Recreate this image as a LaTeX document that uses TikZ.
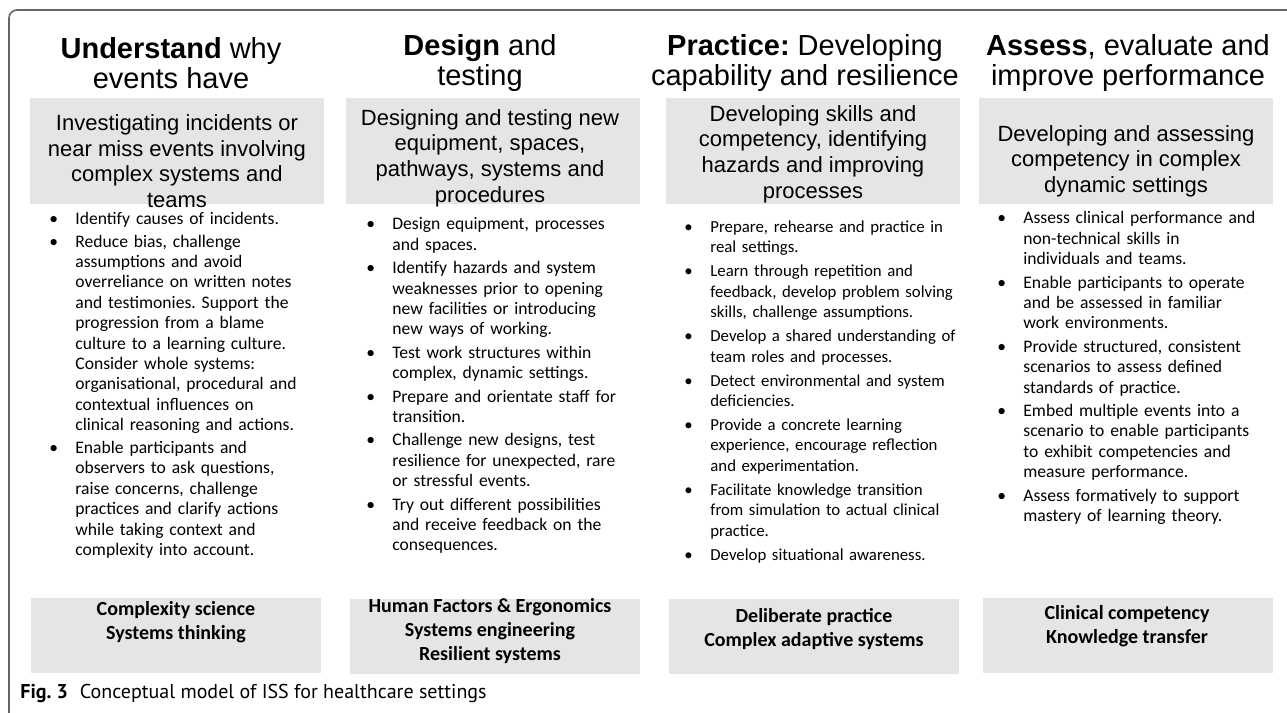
\documentclass[tikz,border=0pt]{standalone}
\usepackage{fontspec}
\setmainfont{Carlito}
\newfontfamily\arialfont{Liberation Sans}
\newfontfamily\capfont{PT Sans}
\frenchspacing
\newcommand\bul{\par\hangindent=13pt\hangafter=1\noindent\hbox to 13pt{\textbullet\hfil}}
\newcommand\listsetup[1][1.2pt]{\let\\\newline\setlength\parskip{#1}\frenchspacing}

\begin{document}
\begin{tikzpicture}[x=0.5pt,y=-0.5pt,
  title/.style={font=\arialfont\fontsize{14.5}{15}\selectfont, align=center, inner sep=0pt},
  greybox/.style={fill=black!10, minimum width=147pt, minimum height=53pt, inner sep=0pt},
  aim/.style={font=\arialfont\fontsize{11}{12.8}\selectfont, align=center, inner sep=0pt},
  bullets/.style={font=\fontsize{8.8}{10.2}\selectfont, text width=150pt, inner sep=0pt, anchor=north west},
  theorybox/.style={fill=black!10, minimum width=145pt, minimum height=37.5pt, inner sep=0pt},
  theory/.style={font=\bfseries\fontsize{10}{12}\selectfont, align=center, inner sep=0pt},
  frame/.style={draw=black!60, line width=0.8pt, rounded corners=4pt}]
\useasboundingbox (0,0) rectangle (1287,713);
\draw[frame] (1287,10) -- (9,10) -- (9,713);

% column titles
\node[title] (understand) at (171,63) {\textbf{Understand} why\\events have};
\node[title] (design) at (480,63) {\textbf{Design} and\\testing};
\node[title] (practice) at (805,63) {\textbf{Practice:} Developing\\capability and resilience};
\node[title] (assess) at (1128,63) {\textbf{Assess}, evaluate and\\improve performance};

% grey boxes with aims
\node[greybox] (aimbox1) at (177,151) {};
\node[greybox] (aimbox2) at (492.5,151) {};
\node[greybox] (aimbox3) at (813,151) {};
\node[greybox] (aimbox4) at (1126,151) {};
\node[aim] (aim1) at (177,161) {Investigating incidents or\\near miss events involving\\complex systems and\\teams};
\node[aim] (aim2) at (490,158) {Designing and testing new\\equipment, spaces,\\pathways, systems and\\procedures};
\node[aim] (aim3) at (813,154) {Developing skills and\\competency, identifying\\hazards and improving\\processes};
\node[aim] (aim4) at (1126,161) {Developing and assessing\\competency in complex\\dynamic settings};

% bullet lists
\node[bullets] (list1) at (49,201) {\listsetup
\bul Identify causes of incidents.
\bul Reduce bias, challenge\\assumptions and avoid\\overreliance on written notes\\and testimonies. Support the\\progression from a blame\\culture to a learning culture.\\Consider whole systems:\\organisational, procedural and\\contextual influences on\\clinical reasoning and actions.
\bul Enable participants and\\observers to ask questions,\\raise concerns, challenge\\practices and clarify actions\\while taking context and\\complexity into account.\par};
\node[bullets] (list2) at (366,206) {\listsetup[1.5pt]
\bul Design equipment, processes\\and spaces.
\bul Identify hazards and system\\weaknesses prior to opening\\new facilities or introducing\\new ways of working.
\bul Test work structures within\\complex, dynamic settings.
\bul Prepare and orientate staff for\\transition.
\bul Challenge new designs, test\\resilience for unexpected, rare\\or stressful events.
\bul Try out different possibilities\\and receive feedback on the\\consequences.\par};
\node[bullets, font=\fontsize{8.4}{10.2}\selectfont] (list3) at (684,208) {\listsetup[1.8pt]
\bul Prepare, rehearse and practice in\\real settings.
\bul Learn through repetition and\\feedback, develop problem solving\\skills, challenge assumptions.
\bul Develop a shared understanding of\\team roles and processes.
\bul Detect environmental and system\\deficiencies.
\bul Provide a concrete learning\\experience, encourage reflection\\and experimentation.
\bul Facilitate knowledge transition\\from simulation to actual clinical\\practice.
\bul Develop situational awareness.\par};
\node[bullets] (list4) at (997,200) {\listsetup[1.5pt]
\bul Assess clinical performance and\\non-technical skills in\\individuals and teams.
\bul Enable participants to operate\\and be assessed in familiar\\work environments.
\bul Provide structured, consistent\\scenarios to assess defined\\standards of practice.
\bul Embed multiple events into a\\scenario to enable participants\\to exhibit competencies and\\measure performance.
\bul Assess formatively to support\\mastery of learning theory.\par};

% theory boxes
\node[theorybox] (theorybox1) at (176,635) {};
\node[theorybox] (theorybox2) at (495,636) {};
\node[theorybox] (theorybox3) at (814,636.5) {};
\node[theorybox] (theorybox4) at (1127.5,635) {};
\node[theory] (theory1) at (176,622) {Complexity science\\Systems thinking};
\node[theory] (theory2) at (490,631) {Human Factors \& Ergonomics\\Systems engineering\\Resilient systems};
\node[theory] (theory3) at (814,629) {Deliberate practice\\Complex adaptive systems};
\node[theory] (theory4) at (1127,626) {Clinical competency\\Knowledge transfer};

% caption
\node[anchor=west, font=\capfont\fontsize{10}{12}\selectfont, inner sep=0pt] (caption) at (20,693) {\textbf{Fig. 3}\hspace{6pt}Conceptual model of ISS for healthcare settings};
\end{tikzpicture}
\end{document}
